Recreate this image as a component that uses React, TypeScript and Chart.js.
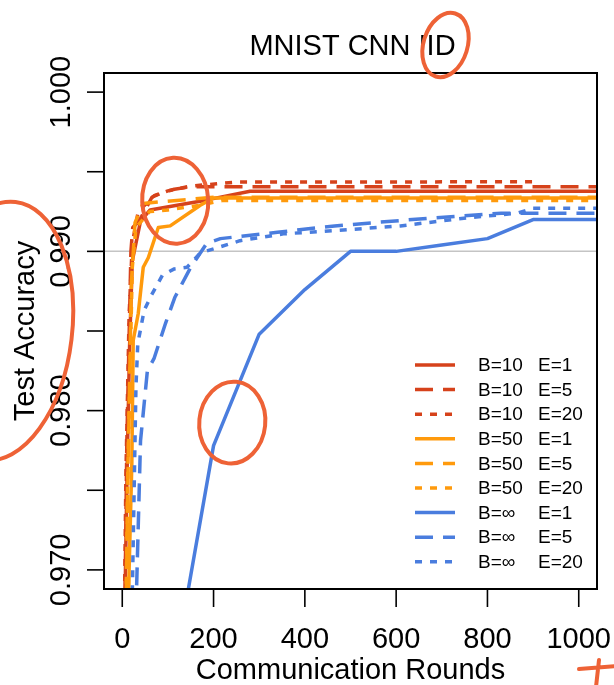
import { useEffect, useRef } from 'react';
import { Chart, registerables } from 'chart.js';

Chart.register(...registerables);

const FONT = "'Liberation Sans', Arial, Helvetica, sans-serif";

const TITLE = 'MNIST CNN IID';
const X_TITLE = 'Communication Rounds';
const Y_TITLE = 'Test Accuracy';

const X_MIN = -40;
const X_MAX = 1040;
const Y_MIN = 0.9688;
const Y_MAX = 1.0012;

const X_TICKS = [0, 200, 400, 600, 800, 1000];
const X_TICK_LABELS = ['0', '200', '400', '600', '800', '1000'];
const Y_TICKS = [0.97, 0.975, 0.98, 0.985, 0.99, 0.995, 1.0];
const Y_TICK_LABELS = ['0.970', '', '0.980', '', '0.990', '', '1.000'];
const REF_LINE = 0.99;

const SERIES_LABELS = [
  'B=10 E=1', 'B=10 E=5', 'B=10 E=20',
  'B=50 E=1', 'B=50 E=5', 'B=50 E=20',
  'B=\u221E E=1', 'B=\u221E E=5', 'B=\u221E E=20',
];

// [round, accuracy]
const B10_E1: [number, number][] = [
  [3, 0.958], [7, 0.97], [11, 0.9769], [16, 0.984], [22, 0.9894], [40, 0.9919],
  [61, 0.9926], [120, 0.9929], [180, 0.9932], [280, 0.99377], [1100, 0.99377],
];
const B10_E5: [number, number][] = [
  [2, 0.958], [10, 0.978], [19, 0.99], [23, 0.9915], [37, 0.9919], [65, 0.9934],
  [88, 0.9937], [114, 0.9939], [150, 0.99406], [1100, 0.99406],
];
const B10_E20: [number, number][] = [
  [1, 0.958], [8, 0.976], [15, 0.986], [22, 0.9905], [35, 0.9925], [70, 0.9935],
  [100, 0.9938], [150, 0.9941], [250, 0.99435], [900, 0.99437],
];
const B50_E1: [number, number][] = [
  [5, 0.95], [15, 0.97], [21, 0.9767], [24, 0.9844], [35, 0.9861], [46, 0.989],
  [57, 0.9896], [79, 0.9915], [105, 0.9916], [171, 0.9929], [200, 0.99335], [1100, 0.99335],
];
const B50_E5: [number, number][] = [
  [3, 0.956], [12, 0.975], [20, 0.988], [28, 0.9918], [45, 0.993], [80, 0.9931],
  [200, 0.9934], [1100, 0.9934],
];
const B50_E20: [number, number][] = [
  [3, 0.955], [12, 0.976], [22, 0.989], [30, 0.9915], [60, 0.9925], [100, 0.9926],
  [170, 0.9929], [220, 0.9932], [1100, 0.9932],
];
const BINF_E1: [number, number][] = [
  [100, 0.9615], [200, 0.9778], [300, 0.9848], [400, 0.9876], [500, 0.99], [600, 0.99],
  [700, 0.9904], [800, 0.9908], [900, 0.992], [1000, 0.992], [1100, 0.992],
];
const BINF_E5: [number, number][] = [
  [25, 0.962], [40, 0.9781], [55, 0.9825], [70, 0.9833], [95, 0.9855], [115, 0.9871],
  [150, 0.989], [185, 0.9905], [215, 0.9908], [340, 0.9912], [465, 0.9916], [550, 0.9918],
  [680, 0.9921], [830, 0.9924], [1100, 0.9924],
];
const BINF_E20: [number, number][] = [
  [18, 0.962], [30, 0.9815], [34, 0.9842], [48, 0.9863], [63, 0.9872], [88, 0.9885],
  [114, 0.9889], [142, 0.989], [171, 0.9899], [258, 0.99067], [353, 0.9911], [463, 0.9913],
  [609, 0.9916], [755, 0.9921], [865, 0.9924], [900, 0.9927], [1100, 0.9927],
];

const SERIES = [B10_E1, B10_E5, B10_E20, B50_E1, B50_E5, B50_E20, BINF_E1, BINF_E5, BINF_E20];

const RED = '#D6421B';
const ORANGE = '#FF9A0C';
const BLUE = '#4A7DDE';
const COLORS = [RED, RED, RED, ORANGE, ORANGE, ORANGE, BLUE, BLUE, BLUE];
const SOLID: number[] = [];
const DASHED = [18, 10];
const DOTTED = [7, 8];
const DASHES = [SOLID, DASHED, DOTTED, SOLID, DASHED, DOTTED, SOLID, DASHED, DOTTED];

const INK = '#EE6236';

const rPlugin = {
  id: 'rStyle',
  beforeDatasetsDraw(chart: any) {
    const { ctx, chartArea: a, scales } = chart;
    const py = scales.y.getPixelForValue(REF_LINE);
    ctx.save();
    ctx.strokeStyle = '#C4C4C4';
    ctx.lineWidth = 1.5;
    ctx.beginPath();
    ctx.moveTo(a.left, py);
    ctx.lineTo(a.right, py);
    ctx.stroke();
    ctx.restore();
  },
  afterDatasetsDraw(chart: any) {
    const { ctx, chartArea: a, scales } = chart;
    const xs = scales.x;
    const ys = scales.y;
    ctx.save();
    // box
    ctx.strokeStyle = '#000';
    ctx.lineWidth = 2;
    ctx.strokeRect(a.left, a.top, a.right - a.left, a.bottom - a.top);

    ctx.fillStyle = '#000';
    ctx.lineWidth = 1.6;
    // x ticks
    ctx.font = `29px ${FONT}`;
    ctx.textAlign = 'center';
    ctx.textBaseline = 'alphabetic';
    X_TICKS.forEach((v, i) => {
      const px = xs.getPixelForValue(v);
      ctx.beginPath();
      ctx.moveTo(px, a.bottom);
      ctx.lineTo(px, a.bottom + 18);
      ctx.stroke();
      ctx.fillText(X_TICK_LABELS[i], px, a.bottom + 59);
    });
    // y ticks
    Y_TICKS.forEach((v, i) => {
      const py = ys.getPixelForValue(v);
      ctx.beginPath();
      ctx.moveTo(a.left, py);
      ctx.lineTo(a.left - 17, py);
      ctx.stroke();
      if (Y_TICK_LABELS[i]) {
        ctx.save();
        ctx.translate(a.left - 34, py);
        ctx.rotate(-Math.PI / 2);
        ctx.fillText(Y_TICK_LABELS[i], 0, 0);
        ctx.restore();
      }
    });
    // titles
    ctx.fillText(TITLE, (a.left + a.right) / 2 + 2, a.top - 18);
    ctx.fillText(X_TITLE, (a.left + a.right) / 2, a.bottom + 90);
    ctx.save();
    ctx.translate(a.left - 70, (a.top + a.bottom) / 2);
    ctx.rotate(-Math.PI / 2);
    ctx.fillText(Y_TITLE, 0, 0);
    ctx.restore();

    // legend
    const lx0 = a.right - 182;
    const lx1 = a.right - 142;
    const tx1 = a.right - 119;
    const tx2 = a.right - 59;
    const ly0 = a.bottom - 224;
    const step = 24.6;
    ctx.font = `19px ${FONT}`;
    ctx.textAlign = 'left';
    ctx.textBaseline = 'middle';
    chart.data.datasets.forEach((ds: any, i: number) => {
      const y = ly0 + i * step;
      ctx.save();
      ctx.strokeStyle = ds.borderColor;
      ctx.lineWidth = 3.5;
      ctx.lineCap = 'butt';
      ctx.setLineDash(ds.borderDash || []);
      ctx.beginPath();
      ctx.moveTo(lx0, y);
      ctx.lineTo(lx1, y);
      ctx.stroke();
      ctx.restore();
      const parts = String(ds.label).split(' ');
      ctx.fillText(parts[0], tx1, y + 1);
      ctx.fillText(parts[1], tx2, y + 1);
    });

    // hand-drawn ink annotations
    ctx.strokeStyle = INK;
    ctx.lineWidth = 4;
    ctx.lineCap = 'round';
    ctx.setLineDash([]);
    const ell = (cx: number, cy: number, rx: number, ry: number, rot: number) => {
      ctx.beginPath();
      ctx.ellipse(cx, cy, rx, ry, rot, 0, Math.PI * 2);
      ctx.stroke();
    };
    // around "IID"
    ell((a.left + a.right) / 2 + 95, a.top - 28, 22, 33, 0.3);
    // around early convergence
    ell(xs.getPixelForValue(116), ys.getPixelForValue(0.99318), 33, 43, -0.05);
    // around B=inf E=1 rise
    ell(xs.getPixelForValue(241), ys.getPixelForValue(0.97925), 33, 41, 0.1);
    // arc around y title
    ell(0, (a.top + a.bottom) / 2, 72, 130, 0.12);
    // plus mark
    ctx.beginPath();
    ctx.moveTo(a.right + 2, a.bottom + 71);
    ctx.lineTo(a.right - 1, a.bottom + 98);
    ctx.moveTo(a.right - 18, a.bottom + 80);
    ctx.lineTo(a.right + 20, a.bottom + 77);
    ctx.stroke();
    ctx.restore();
  },
};

export default function App() {
  const ref = useRef<HTMLCanvasElement | null>(null);
  useEffect(() => {
    if (!ref.current) return;
    const datasets = SERIES.map((pts, i) => ({
      label: SERIES_LABELS[i],
      data: pts.map(([x, y]) => ({ x, y })),
      borderColor: COLORS[i],
      backgroundColor: COLORS[i],
      borderWidth: 3.5,
      borderDash: DASHES[i],
      borderCapStyle: 'butt',
      borderJoinStyle: 'round',
      pointRadius: 0,
      fill: false,
      tension: 0,
      order: 8 - i,
    }));
    const chart = new Chart(ref.current, {
      type: 'line',
      data: { datasets } as any,
      options: {
        responsive: false,
        animation: false,
        layout: { padding: { left: 104, right: 17, top: 73, bottom: 96 } },
        scales: {
          x: { type: 'linear', min: X_MIN, max: X_MAX, display: false },
          y: { type: 'linear', min: Y_MIN, max: Y_MAX, display: false },
        },
        plugins: {
          legend: { display: false },
          tooltip: { enabled: false },
          title: { display: false },
        },
      },
      plugins: [rPlugin],
    } as any);
    return () => chart.destroy();
  }, []);
  return (
    <div style={{ position: 'absolute', left: 0, top: 0, width: 614, height: 685, background: '#fff' }}>
      <canvas ref={ref} width={614} height={685} style={{ display: 'block' }} />
    </div>
  );
}
